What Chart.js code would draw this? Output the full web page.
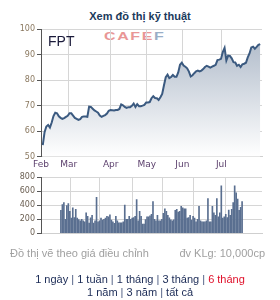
<!DOCTYPE html>
<html>
<head>
<meta charset="utf-8">
<script src="https://cdn.jsdelivr.net/npm/chart.js@4.4.1/dist/chart.umd.min.js"></script>
<style>
  body { margin: 0; width: 280px; height: 300px; background: #fff; position: relative; overflow: hidden;
         font-family: "Liberation Sans", Arial, sans-serif; }
  .abs { position: absolute; white-space: nowrap; }
  #title { top: 10px; left: 0; width: 280px; text-align: center; font-size: 11px; font-weight: bold; color: #1b3a5c; line-height: 13px; }
  #sym { top: 33px; left: 48px; font-size: 14px; color: #1a1a3a; line-height: 16px; }
  #logo { top: 31px; left: 104px; font-size: 10px; font-weight: bold; line-height: 11px;
          transform: scaleX(1.6); transform-origin: left top; letter-spacing: 1px; opacity: 0.7; }
  #logo .c1 { color: #e06a6a; } #logo .c2 { color: #6f8db0; }
  #note { top: 247px; left: 10px; font-size: 11px; color: #a0a0a0; line-height: 13px; }
  #unit { top: 247px; right: 15px; font-size: 11px; color: #a0a0a0; line-height: 13px; }
  .links { left: 0; width: 280px; text-align: center; font-size: 11px; color: #1a2a55; line-height: 13px; }
  .links .s { color: #4a5a80; }
  .links .r { color: #e0102a; }
  canvas { position: absolute; left: 0; }
</style>
</head>
<body>
<div id="title" class="abs">Xem đồ thị kỹ thuật</div>
<div id="logo" class="abs"><span class="c1">CAFE</span><span class="c2">F</span></div>
<canvas id="price" width="280" height="180" style="top:0"></canvas>
<canvas id="vol" width="280" height="80" style="top:160px"></canvas>
<div id="sym" class="abs">FPT</div>
<div id="note" class="abs">Đồ thị vẽ theo giá điều chỉnh</div>
<div id="unit" class="abs">đv KLg: 10,000cp</div>
<div class="abs links" style="top:273px">1 ngày<span class="s"> | </span>1 tuần<span class="s"> | </span>1 tháng<span class="s"> | </span>3 tháng<span class="s"> | </span><span class="r">6 tháng</span></div>
<div class="abs links" style="top:286px">1 năm<span class="s"> | </span>3 năm<span class="s"> | </span>tất cả</div>
<script>
// month labels and where each month starts (trading-day index)
const months = ['Feb', 'Mar', 'Apr', 'May', 'Jun', 'Jul'];
const monthStarts = [-1, 14.5, 38.1, 58.3, 78.3, 100.2];
const priceTicks = [50, 60, 70, 80, 90, 100];
const volTicks = [0, 200, 400, 600, 800];

// closing price, one per trading day
const prices = [
  54.5, 59.6, 61.8, 62.4, 61.4, 63.4, 65.9, 67.2, 67.0, 65.8,
  65.2, 64.8, 65.1, 65.6, 66.0, 67.0, 67.0, 66.1, 65.2, 64.8,
  64.4, 64.7, 65.6, 65.7, 65.7, 65.6, 69.6, 69.5, 68.8, 68.1,
  67.7, 67.2, 66.1, 65.6, 66.0, 66.3, 66.9, 68.0, 68.3, 68.2,
  68.1, 68.3, 68.3, 68.7, 70.5, 70.1, 69.5, 69.1, 69.4, 69.4,
  69.9, 70.8, 69.5, 70.6, 69.8, 69.8, 70.0, 70.3, 71.2, 71.2,
  71.4, 72.9, 73.7, 73.0, 72.9, 72.2, 73.3, 74.6, 78.0, 81.1,
  82.1, 80.8, 81.2, 82.0, 81.3, 81.3, 83.0, 86.0, 86.8, 85.7,
  85.2, 84.6, 83.3, 81.4, 81.9, 82.7, 83.4, 83.7, 83.4, 83.7,
  84.3, 85.1, 85.6, 85.3, 84.9, 85.3, 85.6, 86.0, 87.8, 88.0,
  88.3, 91.0, 92.6, 87.7, 89.6, 89.5, 88.5, 87.0, 86.9, 85.6,
  86.0, 85.1, 86.2, 86.4, 86.8, 88.9, 90.4, 92.8, 93.1, 92.3,
  93.0, 93.8, 94.1
];

// volume in units of 10,000 shares
const volumes = [
  327, 411, 439, 200, 397, 425, 313, 215, 364, 224, 341, 215, 196, 178, 200,
  178, 164, 290, 243, 145, 220, 257, 145, 178, 514, 164, 178, 215, 187, 200,
  215, 243, 234, 262, 187, 164, 140, 243, 178,
  150, 150, 150, 164, 402, 200, 200, 243, 200, 215, 224, 243, 481, 178, 313,
  243, 131, 131, 196, 234, 234, 250,
  271, 453, 200, 178, 257, 178, 178, 200, 285, 350, 313, 257, 220, 192, 178,
  192, 327, 341,
  304, 313, 383, 364, 350, 350, 215, 224, 257, 187, 243, 215, 164, 200, 383,
  178, 164, 164, 164, 178, 495, 164, 164,
  383, 290, 257, 495, 234, 290, 677, 215, 234, 271, 224, 332, 257, 341, 439,
  677, 579, 490, 327, 369, 453
];

const days = prices.map((_, i) => i);
const gridGray = '#d6d6d6';
const tickFont = { family: 'DejaVu Sans', size: 8 };

function xAxis(showLabels, height) {
  return {
    type: 'linear', min: -1, max: 123,
    afterBuildTicks: s => { s.ticks = monthStarts.map(v => ({ value: v })); },
    ticks: {
      display: showLabels, autoSkip: false, maxRotation: 0, padding: 3,
      color: '#5b3f6c', font: { family: 'DejaVu Sans', size: 9 },
      callback: (v, i) => months[i]
    },
    grid: { color: c => c.index === 0 ? 'rgba(0,0,0,0)' : gridGray, drawTicks: false },
    border: { color: '#cfcfcf' },
    afterFit: s => { s.height = height; }
  };
}

function yAxis(min, max, list, labelColor) {
  return {
    min: min, max: max,
    afterBuildTicks: s => { s.ticks = list.map(v => ({ value: v })); },
    ticks: { color: labelColor, font: tickFont, padding: 2 },
    grid: { color: gridGray, tickColor: '#555', tickLength: 4 },
    border: { color: '#555' },
    afterFit: s => { s.width = 41; }
  };
}

const common = {
  responsive: false,
  animation: false,
  plugins: { legend: { display: false }, tooltip: { enabled: false } }
};

new Chart(document.getElementById('price'), {
  type: 'line',
  data: {
    labels: days,
    datasets: [{
      data: prices,
      borderColor: '#3b5a80',
      borderWidth: 2,
      pointRadius: 0,
      tension: 0,
      fill: 'start',
      backgroundColor: ctx => {
        const a = ctx.chart.chartArea;
        if (!a) return 'rgba(0,0,0,0)';
        const g = ctx.chart.ctx.createLinearGradient(0, a.top, 0, a.bottom);
        g.addColorStop(0, '#aab6c6');
        g.addColorStop(1, '#ffffff');
        return g;
      }
    }]
  },
  options: {
    ...common,
    layout: { padding: { top: 29, right: 18, left: 0, bottom: 0 } },
    scales: { x: xAxis(true, 23.3), y: yAxis(50, 100, priceTicks, '#8a785f') }
  }
});

new Chart(document.getElementById('vol'), {
  type: 'bar',
  data: {
    labels: days,
    datasets: [{ data: volumes, backgroundColor: '#5a6f90', barThickness: 1 }]
  },
  options: {
    ...common,
    layout: { padding: { top: 17.3, right: 18, left: 0, bottom: 0 } },
    scales: { x: xAxis(false, 5.5), y: yAxis(0, 800, volTicks, '#6b5f52') }
  }
});
</script>
</body>
</html>
